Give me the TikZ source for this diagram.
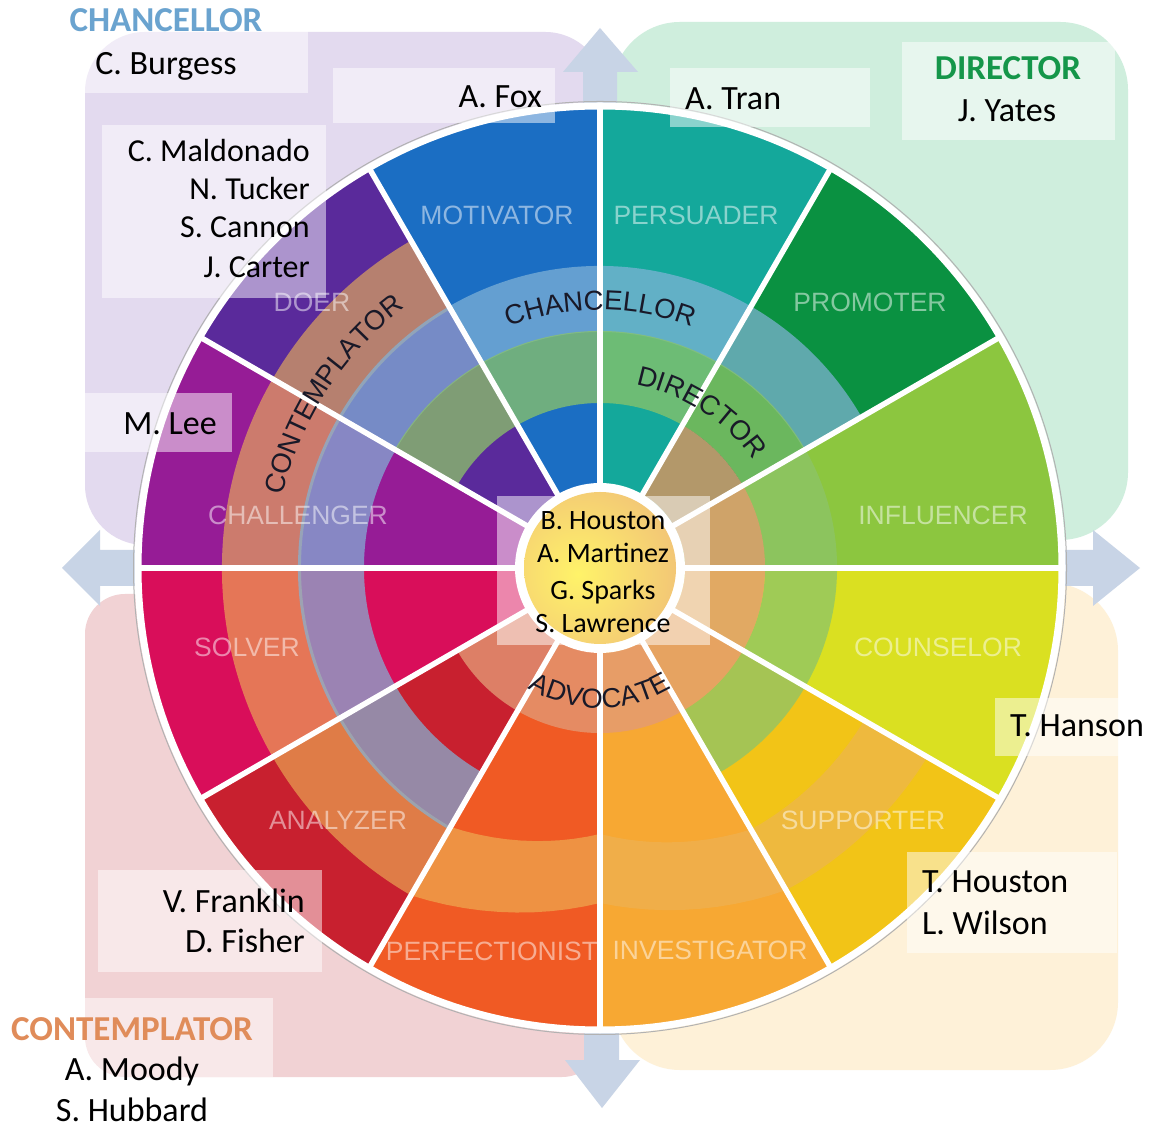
\documentclass[tikz,border=0pt]{standalone}
\usepackage{fontspec}
\setmainfont{Carlito}
\newfontfamily\arialf{Liberation Sans}
\usetikzlibrary{decorations.text}
\newcommand{\ringfnt}{\arialf\fontsize{27.5}{30}\selectfont}
\definecolor{cMot}{RGB}{27,110,195}
\definecolor{cPer}{RGB}{20,168,155}
\definecolor{cPro}{RGB}{10,145,65}
\definecolor{cInf}{RGB}{140,198,63}
\definecolor{cCou}{RGB}{218,224,33}
\definecolor{cSup}{RGB}{242,196,23}
\definecolor{cInv}{RGB}{247,168,51}
\definecolor{cPrf}{RGB}{240,90,36}
\definecolor{cAna}{RGB}{200,32,47}
\definecolor{cSol}{RGB}{217,14,90}
\definecolor{cCha}{RGB}{150,28,150}
\definecolor{cDoe}{RGB}{90,42,155}
\definecolor{tA}{RGB}{237,179,86}
\definecolor{tB}{RGB}{130,180,216}
\definecolor{tC}{RGB}{140,196,105}
\definecolor{tD}{RGB}{227,154,118}
\definecolor{bgLav}{RGB}{227,218,239}
\definecolor{bgMint}{RGB}{207,238,221}
\definecolor{bgPink}{RGB}{241,210,212}
\definecolor{bgCream}{RGB}{254,241,216}
\definecolor{arrowc}{RGB}{200,212,230}
\definecolor{hBlue}{RGB}{106,163,207}
\definecolor{hGreen}{RGB}{21,150,74}
\definecolor{hOrange}{RGB}{224,140,90}
\definecolor{ringtxt}{RGB}{25,25,40}
\definecolor{discY}{RGB}{255,243,105}
\definecolor{discS}{RGB}{228,148,132}
\begin{document}
\begin{tikzpicture}[x=1pt,y=1pt,
  namebox/.style={fill=white, fill opacity=0.5},
  nm/.style={inner sep=0pt, font=\fontsize{34}{40}\selectfont, text=black},
  nms/.style={inner sep=0pt, font=\fontsize{32}{38}\selectfont, text=black},
  nmc/.style={inner sep=0pt, font=\fontsize{28}{33}\selectfont, text=black},
  headtxt/.style={inner sep=0pt, font=\fontsize{35}{40}\selectfont\bfseries},
  sectxt/.style={inner sep=0pt, font=\arialf\fontsize{26.5}{30}\selectfont, text=white, text opacity=0.5},
  ringlabel/.style={decorate, decoration={text along path, text color=ringtxt, text align=center, text={|\ringfnt|#1}}},
  arrowshape/.style={fill=arrowc}
]
\useasboundingbox (0,0) rectangle (1155,1129);
\fill[white] (0,0) rectangle (1155,1129);

% background quadrants
\fill[bgLav, rounded corners=60pt] (85,1097) rectangle (605,584);
\fill[bgMint, rounded corners=68pt] (612,1107) rectangle (1128,589);
\fill[bgPink, rounded corners=40pt] (85,535) rectangle (602,52);
\fill[bgCream, rounded corners=68pt] (612,546) rectangle (1118,59);

% arrows
\fill[arrowshape] (583,1009) -- (583,1057) -- (563,1057) -- (600,1101) -- (638,1057) -- (617,1057) -- (617,1009) -- cycle;
\fill[arrowshape] (584,119) -- (584,69) -- (565,69) -- (602,21) -- (640,69) -- (619,69) -- (619,119) -- cycle;
\fill[arrowshape] (160,579) -- (100,579) -- (100,599) -- (62,561) -- (100,523) -- (100,543) -- (160,543) -- cycle;
\fill[arrowshape] (1040,579) -- (1093,579) -- (1093,599) -- (1140,561) -- (1093,523) -- (1093,543) -- (1040,543) -- cycle;

% wheel
\begin{scope}[shift={(600,561)}]
  \foreach \a/\c in {0/cInf,30/cPro,60/cPer,90/cMot,120/cDoe,150/cCha,180/cSol,210/cAna,240/cPrf,270/cInv,300/cSup,330/cCou}
    \fill[\c] (0,0) -- (\a:462) arc[start angle=\a, delta angle=30, radius=462] -- cycle;
  % ring A (contemplator)
  \fill[tA, fill opacity=0.63]
    (120:378) arc[start angle=120, end angle=240, radius=378]
    -- plot[domain=240:270, samples=12] (\x:{378-43*(\x-240)/30})
    -- plot[domain=270:300, samples=12] (\x:{335+37*(\x-270)/30})
    -- plot[domain=300:330, samples=12] (\x:{372+6*(\x-300)/30})
    -- (330:305)
    -- plot[domain=330:300, samples=12] (\x:{302+3*(\x-300)/30})
    -- plot[domain=300:270, samples=12] (\x:{266+36*(\x-270)/30})
    -- plot[domain=270:240, samples=12] (\x:{299-33*(\x-240)/30})
    -- (240:299) arc[start angle=240, end angle=120, radius=299] -- cycle;
  % ring B (chancellor)
  \fill[tB, fill opacity=0.71] (30:302) arc[start angle=30, end angle=240, radius=302]
    -- (240:236) arc[start angle=240, end angle=30, radius=236] -- cycle;
  % ring C (director)
  \fill[tC, fill opacity=0.75] (-60:237) arc[start angle=-60, end angle=150, radius=237]
    -- (150:165) arc[start angle=150, end angle=-60, radius=165] -- cycle;
  % ring D (advocate)
  \fill[tD, fill opacity=0.78] (210:165) arc[start angle=210, end angle=420, radius=165]
    -- (420:85) arc[start angle=420, end angle=210, radius=85] -- cycle;
  % separators and rim
  \foreach \a in {0,30,...,330}
    \draw[white, line width=5.5pt] (\a:70) -- (\a:463);
  \draw[white, line width=7pt] (0,0) circle[radius=462];
  \draw[black!30, line width=1pt] (0,0) circle[radius=466.5];
\end{scope}

% center box
\fill[namebox] (497,633) rectangle (710,484);

\begin{scope}[shift={(600,561)}]
  \fill[white] (0,0) circle[radius=85];
  \begin{scope}
    \clip (0,0) circle[radius=76];
    \shade[inner color=discY, outer color=discS] (-22,-6) circle[radius=210];
  \end{scope}
  \path[ringlabel=CHANCELLOR] (135:258) arc[start angle=135, end angle=45, radius=258];
  \path[ringlabel=DIRECTOR] (102:187) arc[start angle=102, end angle=12, radius=187];
  \path[ringlabel=CONTEMPLATOR] (195:325) arc[start angle=195, end angle=99, radius=325];
  \path[ringlabel=ADVOCATE] (218:140) arc[start angle=218, end angle=322, radius=140];
\end{scope}

% sector labels
\node[sectxt] (sMot) at (497,914) {MOTIVATOR};
\node[sectxt] (sPer) at (696,914) {PERSUADER};
\node[sectxt] (sPro) at (870,827) {PROMOTER};
\node[sectxt] (sInf) at (943,614) {INFLUENCER};
\node[sectxt] (sCou) at (938,482) {COUNSELOR};
\node[sectxt] (sSup) at (863,309) {SUPPORTER};
\node[sectxt] (sInv) at (710,179) {INVESTIGATOR};
\node[sectxt] (sPrf) at (492,178) {PERFECTIONIST};
\node[sectxt] (sAna) at (338,309) {ANALYZER};
\node[sectxt] (sSol) at (247,482) {SOLVER};
\node[sectxt] (sCha) at (298,614) {CHALLENGER};
\node[sectxt] (sDoe) at (312,827) {DOER};

% name boxes
\fill[namebox] (70,1124) rectangle (308,1036);
\fill[namebox] (333,1061) rectangle (555,1006);
\fill[namebox] (670,1061) rectangle (870,1002);
\fill[namebox] (902,1087) rectangle (1115,989);
\fill[namebox] (102,1004) rectangle (326,831);
\fill[namebox] (70,736) rectangle (232,677);
\fill[namebox] (995,431) rectangle (1160,373);
\fill[namebox] (907,277) rectangle (1117,176);
\fill[namebox] (98,259) rectangle (322,157);
\fill[namebox] (0,131) rectangle (273,52);

% texts
\node[headtxt, text=hBlue, anchor=base] (hChan) at (166,1097) {CHANCELLOR};
\node[nm, anchor=base] (nBurgess) at (166,1054) {C. Burgess};
\node[nm, anchor=base east] (nFox) at (542,1021) {A. Fox};
\node[nm, anchor=base west] (nTran) at (685,1019) {A. Tran};
\node[headtxt, text=hGreen, anchor=base] (hDir) at (1008,1049) {DIRECTOR};
\node[nm, anchor=base] (nYates) at (1007,1007) {J. Yates};
\node[nms, anchor=base east] (nMald) at (310,967) {C. Maldonado};
\node[nms, anchor=base east] (nTuck) at (310,929) {N. Tucker};
\node[nms, anchor=base east] (nCann) at (310,891) {S. Cannon};
\node[nms, anchor=base east] (nCart) at (310,851) {J. Carter};
\node[nm, anchor=base east] (nLee) at (217,694) {M. Lee};
\node[nmc, anchor=base] (nBHou) at (603,599) {B. Houston};
\node[nmc, anchor=base] (nMart) at (603,566) {A. Martinez};
\node[nmc, anchor=base] (nSpar) at (603,529) {G. Sparks};
\node[nmc, anchor=base] (nLawr) at (603,496) {S. Lawrence};
\node[nm, anchor=base west] (nHans) at (1010,392) {T. Hanson};
\node[nm, anchor=base west] (nTHou) at (922,236) {T. Houston};
\node[nm, anchor=base west] (nWils) at (922,194) {L. Wilson};
\node[nm, anchor=base east] (nFran) at (305,216) {V. Franklin};
\node[nm, anchor=base east] (nFish) at (305,176) {D. Fisher};
\node[headtxt, text=hOrange, anchor=base] (hCont) at (132,89) {CONTEMPLATOR};
\node[nm, anchor=base] (nMood) at (132,49) {A. Moody};
\node[nm, anchor=base] (nHubb) at (132,8) {S. Hubbard};
\end{tikzpicture}
\end{document}
